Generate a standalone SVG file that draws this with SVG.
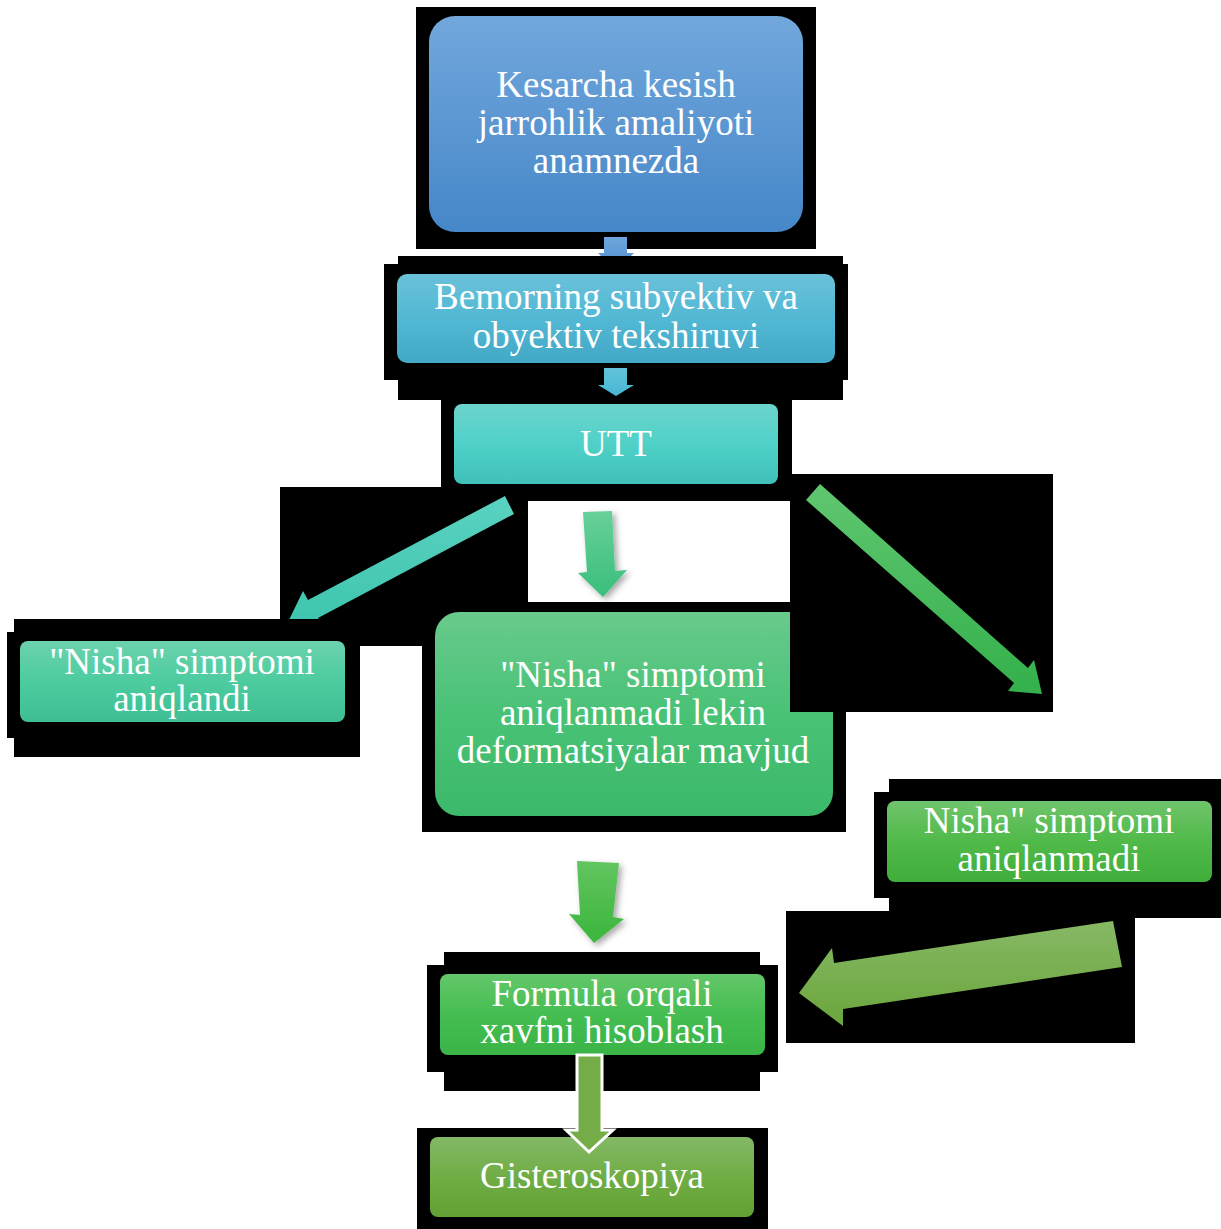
<svg xmlns="http://www.w3.org/2000/svg" width="1221" height="1229" viewBox="0 0 1221 1229">
<style>
.bk{fill:#000}
.t{font-family:"Liberation Serif","Times New Roman",serif;font-size:37px;fill:#fff;text-anchor:middle}
</style>
<defs>
<linearGradient id="gBlue" x1="0" y1="0" x2="0" y2="1"><stop offset="0" stop-color="#72a7dc"/><stop offset="1" stop-color="#4587c8"/></linearGradient>
<linearGradient id="gCyan" x1="0" y1="0" x2="0" y2="1"><stop offset="0" stop-color="#6ac1d9"/><stop offset="0.5" stop-color="#52b8d4"/><stop offset="1" stop-color="#43a8c6"/></linearGradient>
<linearGradient id="gTeal" x1="0" y1="0" x2="0" y2="1"><stop offset="0" stop-color="#6dd4cd"/><stop offset="0.5" stop-color="#4fd1c8"/><stop offset="1" stop-color="#40c0b8"/></linearGradient>
<linearGradient id="gTG" x1="0" y1="0" x2="0" y2="1"><stop offset="0" stop-color="#6cd2ae"/><stop offset="0.5" stop-color="#4ccc9f"/><stop offset="1" stop-color="#3ebe92"/></linearGradient>
<linearGradient id="gMid" x1="0" y1="0" x2="0" y2="1"><stop offset="0" stop-color="#68ca8c"/><stop offset="0.5" stop-color="#49c276"/><stop offset="1" stop-color="#3cb96b"/></linearGradient>
<linearGradient id="gGreen" x1="0" y1="0" x2="0" y2="1"><stop offset="0" stop-color="#70c46c"/><stop offset="0.5" stop-color="#50ba49"/><stop offset="1" stop-color="#40ae3a"/></linearGradient>
<linearGradient id="gForm" x1="0" y1="0" x2="0" y2="1"><stop offset="0" stop-color="#64c76a"/><stop offset="0.5" stop-color="#45bd51"/><stop offset="1" stop-color="#3ab447"/></linearGradient>
<linearGradient id="gOlive" x1="0" y1="0" x2="0" y2="1"><stop offset="0" stop-color="#84b867"/><stop offset="0.5" stop-color="#70ad45"/><stop offset="1" stop-color="#63a133"/></linearGradient>
<linearGradient id="aBlue" x1="0" y1="0" x2="0" y2="1"><stop offset="0" stop-color="#6fa7dd"/><stop offset="1" stop-color="#5b98d4"/></linearGradient>
<linearGradient id="aCyan" x1="0" y1="0" x2="0" y2="1"><stop offset="0" stop-color="#62c3da"/><stop offset="1" stop-color="#48b6d2"/></linearGradient>
<linearGradient id="aLeft" x1="0" y1="0" x2="0" y2="1"><stop offset="0" stop-color="#5ad2c2"/><stop offset="1" stop-color="#3ec5ad"/></linearGradient>
<linearGradient id="aMid" x1="0" y1="0" x2="0" y2="1"><stop offset="0" stop-color="#68d09a"/><stop offset="1" stop-color="#3abe7b"/></linearGradient>
<linearGradient id="aRight" x1="0" y1="0" x2="0" y2="1"><stop offset="0" stop-color="#60c670"/><stop offset="1" stop-color="#33b04b"/></linearGradient>
<linearGradient id="aGreen" x1="0" y1="0" x2="0" y2="1"><stop offset="0" stop-color="#62c560"/><stop offset="1" stop-color="#3bb53b"/></linearGradient>
<linearGradient id="aOlive" x1="0" y1="0" x2="0" y2="1"><stop offset="0" stop-color="#87b865"/><stop offset="1" stop-color="#6aa63c"/></linearGradient>
<filter id="sh" x="-30%" y="-20%" width="160%" height="150%"><feDropShadow dx="3" dy="3" stdDeviation="3" flood-color="#000" flood-opacity="0.35"/></filter>
<clipPath id="clipLeftArrow"><rect x="0" y="0" width="800" height="619"/></clipPath>
<clipPath id="clipMid"><path d="M400 600 H790 V712 H870 V850 H400 Z"/></clipPath>
</defs>

<g id="backdrop">
<rect class="bk" x="280" y="487" width="515" height="159"/>
<rect x="528" y="501" width="262" height="101" fill="#fff"/>
</g>

<g id="node-kesarcha">
<rect class="bk" x="416" y="7" width="400" height="242"/>
<rect x="429" y="16" width="374" height="216" rx="26" fill="url(#gBlue)"/>
<text class="t" x="616" y="97">Kesarcha kesish</text>
<text class="t" x="616" y="135">jarrohlik amaliyoti</text>
<text class="t" x="616" y="173">anamnezda</text>
</g>

<g id="node-bemorning">
<rect class="bk" x="398" y="256" width="445" height="144"/>
<rect class="bk" x="384" y="264" width="464" height="116"/>
<rect x="397" y="274" width="438" height="89" rx="10" fill="url(#gCyan)"/>
<text class="t" x="616" y="309">Bemorning subyektiv va</text>
<text class="t" x="616" y="348">obyektiv tekshiruvi</text>
</g>

<g id="node-utt">
<rect class="bk" x="441" y="395" width="351" height="92"/>
<rect x="454" y="404" width="324" height="80" rx="8" fill="url(#gTeal)"/>
<text class="t" x="616" y="456">UTT</text>
</g>

<g id="node-aniqlandi">
<rect class="bk" x="14" y="619" width="346" height="138"/>
<rect class="bk" x="7" y="632" width="10" height="106"/>
<rect x="20" y="641" width="325" height="81" rx="8" fill="url(#gTG)"/>
<text class="t" x="182" y="674">"Nisha" simptomi</text>
<text class="t" x="182" y="711">aniqlandi</text>
</g>

<g id="node-deformatsiya">
<rect class="bk" x="422" y="603" width="424" height="229"/>
<g clip-path="url(#clipMid)">
<rect x="435" y="612" width="398" height="204" rx="24" fill="url(#gMid)"/>
<text class="t" x="633" y="687">"Nisha" simptomi</text>
<text class="t" x="633" y="725">aniqlanmadi lekin</text>
<text class="t" x="633" y="763">deformatsiyalar mavjud</text>
</g>
</g>

<g id="backdrop-right">
<rect class="bk" x="790" y="474" width="263" height="238"/>
</g>

<g id="node-aniqlanmadi">
<rect class="bk" x="889" y="779" width="332" height="139"/>
<rect class="bk" x="874" y="792" width="344" height="106"/>
<rect x="887" y="801" width="325" height="81" rx="8" fill="url(#gGreen)"/>
<text class="t" x="1049" y="833">Nisha" simptomi</text>
<text class="t" x="1049" y="871">aniqlanmadi</text>
</g>

<g id="backdrop-bottom">
<rect class="bk" x="786" y="911" width="349" height="132"/>
</g>

<g id="node-formula">
<rect class="bk" x="444" y="952" width="316" height="139"/>
<rect class="bk" x="427" y="965" width="351" height="107"/>
<rect x="440" y="974" width="325" height="81" rx="8" fill="url(#gForm)"/>
<text class="t" x="602" y="1006">Formula orqali</text>
<text class="t" x="602" y="1043">xavfni hisoblash</text>
</g>

<g id="node-gisteroskopiya">
<rect class="bk" x="417" y="1128" width="351" height="101"/>
<rect x="430" y="1137" width="324" height="80" rx="8" fill="url(#gOlive)"/>
<text class="t" x="592" y="1188">Gisteroskopiya</text>
</g>

<g id="connectors">
<polygon points="604,237 627,237 627,253 634,253 631,256 601,256 598,253 604,253" fill="url(#aBlue)"/>
<polygon points="604,368 627,368 627,385 634,385 616,396 598,385 604,385" fill="url(#aCyan)"/>
<polygon clip-path="url(#clipLeftArrow)" points="505,496 514,514 318,618 323,626 288,622 303,591 308,600" fill="url(#aLeft)"/>
<polygon filter="url(#sh)" points="583,512 612,511 615,571 627,570 603,597 578,573 587,572" fill="url(#aMid)"/>
<polygon points="820,484 806,500 1014,683 1008,691 1042,694 1034,660 1028,668" fill="url(#aRight)"/>
<polygon points="1113,921 1122,967 843,1009 843,1026 799,993 832,948 834,963" fill="url(#aOlive)"/>
<polygon filter="url(#sh)" points="577,861 619,863 613,917 624,919 594,943 569,914 580,915" fill="url(#aGreen)"/>
<polygon points="577,1055 602,1055 602,1130 613,1130 589,1152 566,1130 577,1130" fill="#74ad47" stroke="#fff" stroke-width="3" stroke-linejoin="miter"/>
</g>
</svg>
